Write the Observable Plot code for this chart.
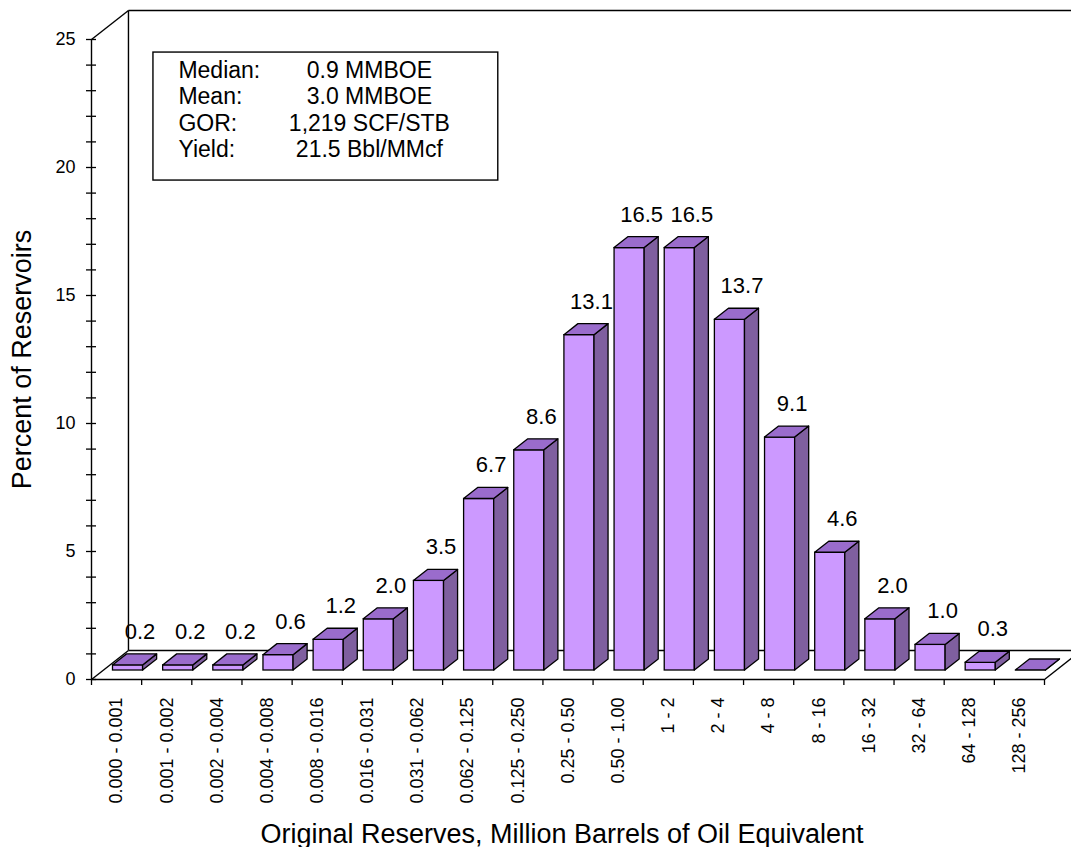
<!DOCTYPE html>
<html>
<head>
<meta charset="utf-8">
<script src="https://cdn.jsdelivr.net/npm/d3@7"></script>
<script src="https://cdn.jsdelivr.net/npm/@observablehq/plot@0.6"></script>
<style>
  body { margin: 0; background: white; }
</style>
</head>
<body>
<div id="myplot"></div>
<script>
const categories = [
  "0.000 - 0.001", "0.001 - 0.002", "0.002 - 0.004", "0.004 - 0.008",
  "0.008 - 0.016", "0.016 - 0.031", "0.031 - 0.062", "0.062 - 0.125",
  "0.125 - 0.250", "0.25 - 0.50", "0.50 - 1.00", "1 - 2", "2 - 4",
  "4 - 8", "8 - 16", "16 - 32", "32 - 64", "64 - 128", "128 - 256"
];
const percents = [0.2, 0.2, 0.2, 0.6, 1.2, 2.0, 3.5, 6.7, 8.6, 13.1, 16.5, 16.5, 13.7, 9.1, 4.6, 2.0, 1.0, 0.3, 0];
const yTicks = [0, 5, 10, 15, 20, 25];
const statLabels = ["Median:", "Mean:", "GOR:", "Yield:"];
const statValues = ["0.9 MMBOE", "3.0 MMBOE", "1,219 SCF/STB", "21.5 Bbl/MMcf"];

const N = categories.length;
const yMax = 25;

// fake 3d: full floor depth expressed in data units, bars sit in the middle of it
const DX = 0.737, DY = 1.133;
const d0 = 0.31, d1 = 0.69;
const pad = 0.2;

const bars = categories.map((c, i) => ({cat: c, i, value: percents[i]}));

const sideFaces = bars.flatMap(b => [d0, d1].map(d => ({
  i: b.i, x: b.i + 1 - pad + d * DX, y1: d * DY, y2: b.value + d * DY
})));
const topFaces = bars.flatMap(b => [d0, d1].map(d => ({
  i: b.i, y: b.value + d * DY, x1: b.i + pad + d * DX, x2: b.i + 1 - pad + d * DX
})));

// floor and back wall outline
const walls = [
  [0, 0, DX, DY],
  [N, 0, N + DX, DY],
  [DX, DY, N + DX, DY],
  [DX, DY, DX, yMax + DY],
  [0, yMax, DX, yMax + DY],
  [DX, yMax + DY, N + DX, yMax + DY],
  [N + DX, DY, N + DX, yMax + DY]
];

// stats box (data units)
const box = {x1: 1.235, x2: 8.11, y1: 19.49, y2: 24.49};
const stats = statLabels.map((s, k) => ({label: s, value: statValues[k], y: 23.79 - k * 1.035}));

const font = "Liberation Sans, Arial, sans-serif";

const plot = Plot.plot({
  width: 1071,
  height: 847,
  marginLeft: 91,
  marginRight: 27,
  marginTop: 39,
  marginBottom: 168,
  style: {fontFamily: font, fontSize: "18px", color: "black", background: "white"},
  x: {domain: [0, N]},
  y: {domain: [0, yMax]},
  marks: [
    Plot.link(walls, {x1: d => d[0], y1: d => d[1], x2: d => d[2], y2: d => d[3], stroke: "black", strokeWidth: 1.4}),
    Plot.ruleY([0], {x1: 0, x2: N, stroke: "black", strokeWidth: 1.4}),
    Plot.ruleX([0], {y1: 0, y2: yMax, stroke: "black", strokeWidth: 1.4}),
    Plot.ruleY(d3.range(0, yMax + 1), {x1: -0.1, x2: 0.1, stroke: "black", strokeWidth: 1.3}),
    Plot.axisX({ticks: d3.range(N + 1), tickSize: 6, tickFormat: () => "", label: null, strokeWidth: 1.3}),
    Plot.axisY({ticks: yTicks, tickSize: 0, tickPadding: 16, fontSize: 18, label: null}),
    // x category labels
    Plot.text(bars, {x: b => b.i + 0.5, y: 0, text: "cat", rotate: -90, textAnchor: "end", dy: 18, fontSize: 18}),
    // bars
    Plot.rect(bars, {
      x1: b => b.i + pad + d0 * DX, x2: b => b.i + 1 - pad + d0 * DX,
      y1: () => d0 * DY, y2: b => b.value + d0 * DY,
      fill: "#cc99ff", stroke: "black", strokeWidth: 1.3
    }),
    Plot.areaY(sideFaces, {x: "x", y1: "y1", y2: "y2", z: "i", fill: "#7f5f9f", stroke: "black", strokeWidth: 1.3, strokeLinejoin: "round"}),
    Plot.areaX(topFaces, {y: "y", x1: "x1", x2: "x2", z: "i", fill: "#9a6ccc", stroke: "black", strokeWidth: 1.3, strokeLinejoin: "round"}),
    Plot.text(bars.filter(b => b.value > 0), {
      x: b => b.i + 0.5 + 0.5 * DX, y: b => b.value + 0.5 * DY,
      text: b => b.value.toFixed(1), lineAnchor: "bottom", dx: 5, dy: -21, fontSize: 22
    }),
    // stats box
    Plot.rect([box], {x1: "x1", x2: "x2", y1: "y1", y2: "y2", fill: "white", stroke: "black", strokeWidth: 1.4}),
    Plot.text(stats, {x: 1.733, y: "y", text: "label", textAnchor: "start", fontSize: 23}),
    Plot.text(stats, {x: 5.54, y: "y", text: "value", textAnchor: "middle", fontSize: 23}),
    // axis titles
    Plot.text(["Original Reserves, Million Barrels of Oil Equivalent"], {frameAnchor: "bottom", text: d => d, dy: 163, dx: -6, lineAnchor: "bottom", fontSize: 27}),
    Plot.text(["Percent of Reservoirs"], {frameAnchor: "left", text: d => d, rotate: -90, textAnchor: "middle", dx: -69, fontSize: 27})
  ]
});

document.querySelector("#myplot").append(plot);
</script>
</body>
</html>
